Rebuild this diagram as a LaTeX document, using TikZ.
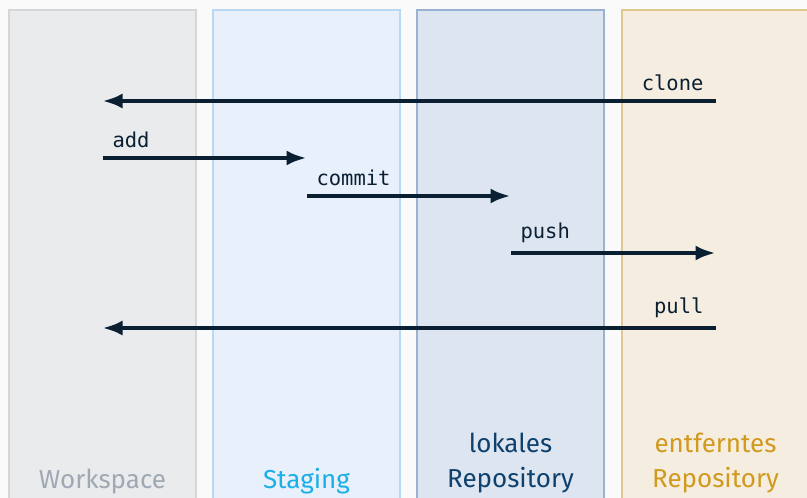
\documentclass[tikz,border=0pt]{standalone}
\usepackage{fontspec}
\setmainfont{Fira Sans}
\setmonofont{DejaVu Sans Mono}
\usetikzlibrary{positioning,arrows.meta}

\definecolor{bg}{HTML}{FAFAFA}
\definecolor{ws-fill}{HTML}{EAEBED}
\definecolor{ws-draw}{HTML}{D4D6D8}
\definecolor{ws-text}{HTML}{A0A9B3}
\definecolor{st-fill}{HTML}{E8F1FB}
\definecolor{st-draw}{HTML}{B9D8F4}
\definecolor{st-text}{HTML}{1AAFE6}
\definecolor{lr-fill}{HTML}{DDE5F0}
\definecolor{lr-draw}{HTML}{9AB2D2}
\definecolor{lr-text}{HTML}{0E416D}
\definecolor{rr-fill}{HTML}{F4EDE0}
\definecolor{rr-draw}{HTML}{DFC88E}
\definecolor{rr-text}{HTML}{D19A1E}
\definecolor{cmdcolor}{HTML}{0B1F33}

\begin{document}
\begin{tikzpicture}[
x=1pt,
y=-1pt,
lane/.style={
  line width=2pt,
  minimum width=187pt,
  minimum height=520pt,
  inner sep=0pt,
  anchor=north
  },
title/.style={
  font=\fontsize{26}{35}\selectfont,
  align=center,
  anchor=base
  },
cmd/.style={
  line width=4pt,
  draw=cmdcolor,
  -{Latex[length=20pt,width=15pt]}
  },
cmdlabel/.style={
  font=\ttfamily\fontsize{20.5}{24}\selectfont,
  text=cmdcolor,
  inner sep=0pt,
  outer sep=0pt,
  at start,
  yshift=10.5pt
  }
]
\useasboundingbox (0,0) rectangle (807,498);
\fill[bg] (0,0) rectangle (807,498);
\clip (0,0) rectangle (807,498);

% lanes
\foreach \n/\x in {ws/102.5,st/306.5,lr/510.5,rr/715.5}
  \node[lane, fill=\n-fill, draw=\n-draw] (\n) at (\x,9) {};

\node[title, text=ws-text] (wstitle) at (ws |- 0,488) {Workspace};
\node[title, text=st-text] (sttitle) at (st |- 0,488) {Staging};
\node[title, text=lr-text] (lrtitle) at (lr |- 0,487) {lokales\\Repository};
\node[title, text=rr-text] (rrtitle) at (rr |- 0,487) {entferntes\\Repository};

% rows
\foreach \r/\y in {clone/101,add/158,commit/196,push/253,pull/328}
  \coordinate (\r) at (0,\y);

\draw[cmd] (rr |- clone) -- node[cmdlabel, anchor=south east, xshift=-12pt] {clone} (ws |- clone);
\draw[cmd] (ws |- add) -- node[cmdlabel, anchor=south west, xshift=10pt] {add} (st |- add);
\draw[cmd] (st |- commit) -- node[cmdlabel, anchor=south west, xshift=10pt] {commit} (lr |- commit);
\draw[cmd] (lr |- push) -- node[cmdlabel, anchor=south west, xshift=10pt] {push} (rr |- push);
\draw[cmd] (rr |- pull) -- node[cmdlabel, anchor=south east, xshift=-12pt] {pull} (ws |- pull);

\end{tikzpicture}
\end{document}
